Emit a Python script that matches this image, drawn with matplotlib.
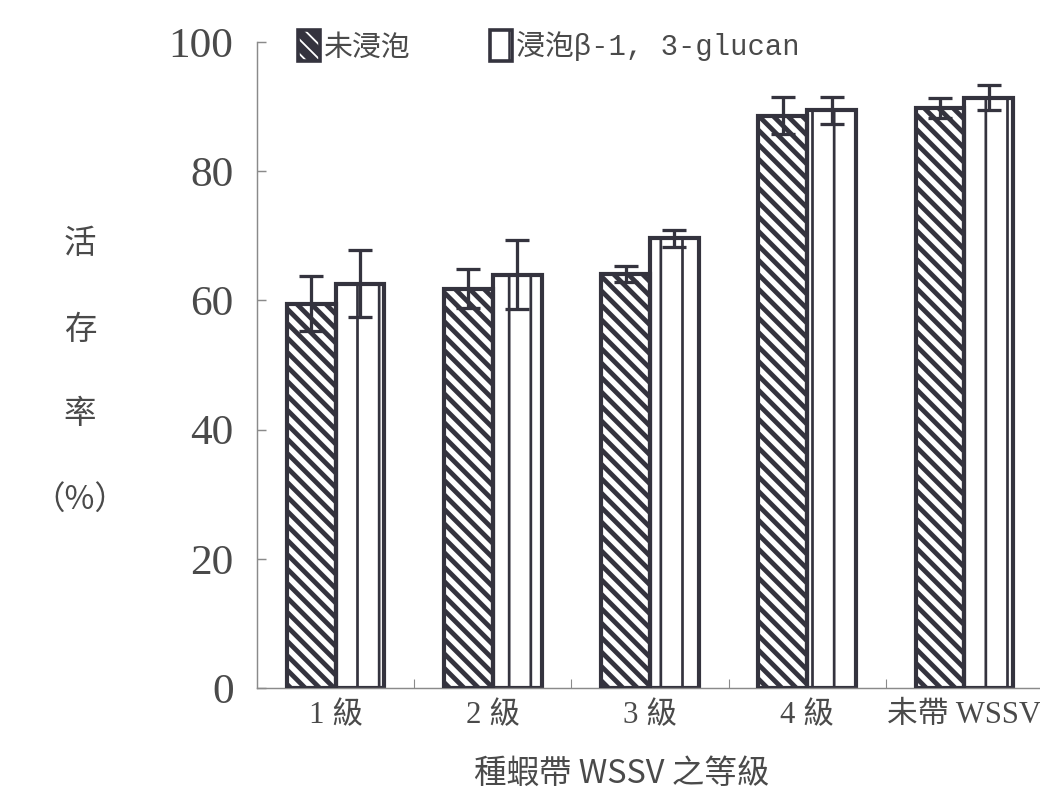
import matplotlib
matplotlib.use("Agg")
import matplotlib.pyplot as plt
import numpy as np
from matplotlib.patches import Patch
from matplotlib.legend_handler import HandlerTuple

categories = ["1 級", "2 級", "3 級", "4 級", "未帶 WSSV"]
untreated = [59.5, 61.8, 64.1, 88.6, 89.8]
untreated_err = [4.2, 3.0, 1.3, 2.9, 1.6]
treated = [62.6, 64.0, 69.6, 89.4, 91.4]
treated_err = [5.2, 5.4, 1.3, 2.1, 1.9]
legend_labels = ["未浸泡", "浸泡β-1, 3-glucan"]
yticks = [0, 20, 40, 60, 80, 100]

DARK = "#34333e"
TXT = "#4a4a4a"
FAM = ["Liberation Serif", "Noto Sans CJK TC", "DejaVu Sans"]
CJK = ["Noto Sans CJK TC", "Liberation Serif", "DejaVu Sans"]
MONO = ["Liberation Mono", "Noto Sans CJK TC", "DejaVu Sans"]
plt.rcParams["font.family"] = FAM

fig = plt.figure(figsize=(8, 791 / 130), dpi=130)
ax = fig.add_axes([257 / 1040, 103 / 791, 786 / 1040, 646 / 791])

x = np.arange(len(categories))
w = 0.31
HATCH_D = "\\\\\\"

with plt.rc_context({"hatch.linewidth": 3.0}):
    b1 = ax.bar(x - w / 2, untreated, w, color=DARK, edgecolor="white",
                hatch=HATCH_D, linewidth=0, zorder=2)
b1e = ax.bar(x - w / 2, untreated, w, facecolor="none", edgecolor=DARK,
             linewidth=2.3, zorder=3)
with plt.rc_context({"hatch.linewidth": 1.5}):
    b2 = ax.bar(x + w / 2, treated, w, color="white", edgecolor=DARK,
                hatch="|", linewidth=2.3, zorder=2)

ax.errorbar(x - w / 2, untreated, yerr=untreated_err, fmt="none", ecolor=DARK,
            elinewidth=1.8, capsize=6.5, capthick=1.8, zorder=4)
ax.errorbar(x + w / 2, treated, yerr=treated_err, fmt="none", ecolor=DARK,
            elinewidth=1.8, capsize=6.5, capthick=1.8, zorder=4)

ax.set_xlim(-0.5, len(categories) - 0.5)
ax.set_ylim(0, 100)
for s in ["top", "right"]:
    ax.spines[s].set_visible(False)
for s in ["left", "bottom"]:
    ax.spines[s].set_color("#8a8a8a")
    ax.spines[s].set_linewidth(0.8)

ax.set_yticks(yticks)
ax.set_yticklabels([str(v) for v in yticks], fontsize=24, color=TXT, family=FAM)
ax.tick_params(axis="y", direction="in", length=5, color="#8a8a8a", pad=13)

ax.set_xticks(x)
ax.set_xticklabels(categories, fontsize=17, color=TXT, family=FAM)
ax.tick_params(axis="x", which="major", length=0, pad=7)
ax.set_xticks(np.arange(len(categories) - 1) + 0.5, minor=True)
ax.tick_params(axis="x", which="minor", direction="in", length=5, color="#8a8a8a")

fig.text(80 / 1040, 1 - 372 / 791, "活\n\n存\n\n率\n\n（%）", ha="center", va="center",
         fontsize=18, color=TXT, family=CJK, linespacing=1.42)
fig.text(622 / 1040, 1 - 774 / 791, "種蝦帶 WSSV 之等級", ha="center", va="center",
         fontsize=18, color=TXT, family=CJK)

h1 = (Patch(facecolor=DARK, edgecolor="white", hatch=HATCH_D, linewidth=0),
      Patch(facecolor="none", edgecolor=DARK, linewidth=2.0))
h2 = Patch(facecolor="white", edgecolor=DARK, hatch="|", linewidth=2.0)
fig.legend([h1, h2], legend_labels, handler_map={tuple: HandlerTuple(ndivide=1)},
           loc="upper left", bbox_to_anchor=(298 / 1040, 1 - 30 / 791), ncol=2,
           frameon=False, borderpad=0, borderaxespad=0, handlelength=0.75,
           handleheight=1.3, handletextpad=0.15, columnspacing=2.75,
           prop={"family": MONO, "size": 16}, labelcolor=TXT)

fig.savefig("out.png", dpi=130, facecolor="white")
